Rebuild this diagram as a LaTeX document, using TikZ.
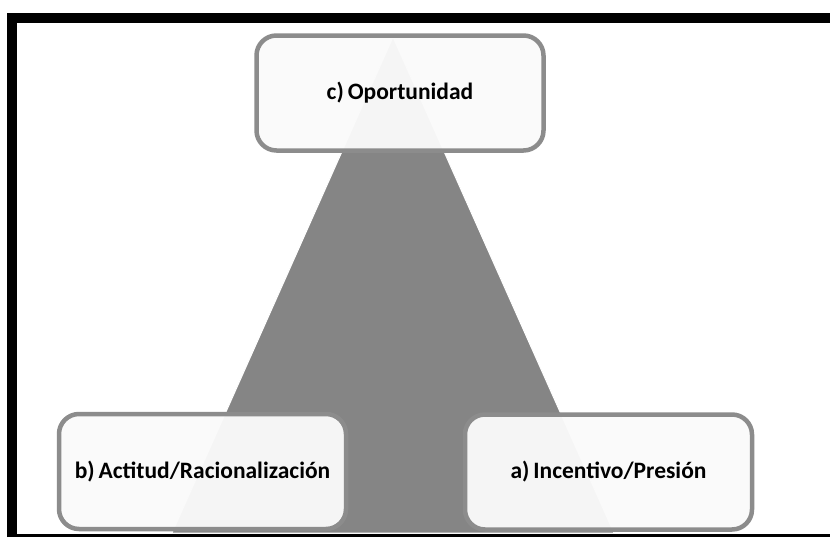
\documentclass[tikz,border=0pt]{standalone}
\usepackage{fontspec}
\setmainfont{Carlito}
\definecolor{trigray}{HTML}{858585}
\definecolor{boxline}{HTML}{8C8C8C}
\definecolor{boxfill}{HTML}{FAFAFA}
\begin{document}
\begin{tikzpicture}[x=1pt,y=-1pt,
  box/.style={draw=boxline, line width=4.5pt, rounded corners=20pt,
    fill=boxfill, fill opacity=0.96, text opacity=1,
    minimum width=287pt, minimum height=115pt, inner sep=0pt,
    font=\fontsize{23.5}{26}\selectfont\bfseries},
  frameline/.style={draw=black}]
\useasboundingbox (0,0) rectangle (830,538);
\fill[white] (0,0) rectangle (830,538);
% frame
\draw[frameline, line width=10pt] (12,537) -- (12,18) -- (830,18);
\draw[frameline, line width=2.5pt] (7,535.5) -- (830,535.5);
% triangle
\coordinate (apex) at (393,37);
\coordinate (bl) at (172,533);
\coordinate (br) at (614,533);
\filldraw[fill=trigray, draw=white, line width=1pt] (apex) -- (br) -- (bl) -- cycle;
% boxes
\node[box] (c) at (400,93) {c)\,Oportunidad};
\node[box] (b) at (202.5,471.5) {b)\,Actitud/Racionalización};
\node[box] (a) at (608.5,472) {a)\,Incentivo/Presión};
\end{tikzpicture}
\end{document}
